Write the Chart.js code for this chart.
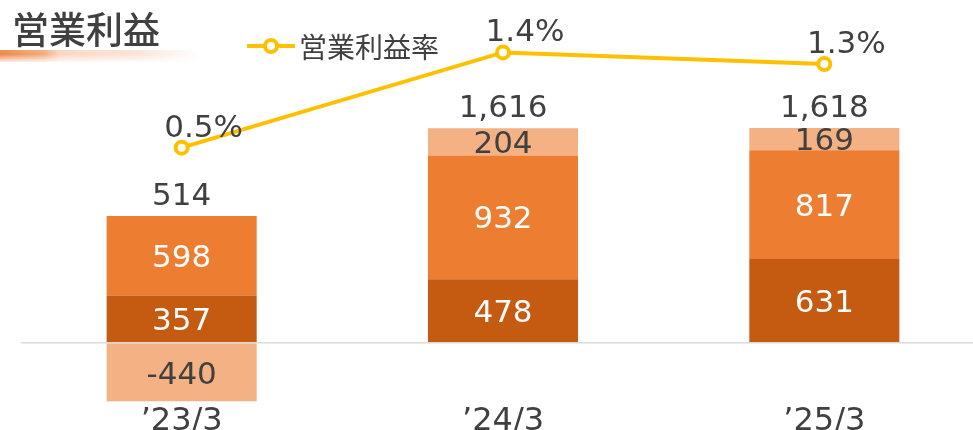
<!DOCTYPE html>
<html><head><meta charset="utf-8">
<script src="https://cdn.jsdelivr.net/npm/chart.js@4"></script>
<style>
html,body{margin:0;padding:0;background:#fff;overflow:hidden;width:973px;height:430px;}
#wrap{position:relative;width:973px;height:430px;overflow:hidden;}
#box{position:absolute;left:0;top:0;width:985px;height:430px;}
#title{position:absolute;left:12px;top:8px;font:500 37px "Noto Sans CJK JP";color:#404040;line-height:40px;z-index:2;}
#uline{position:absolute;left:0;top:50px;width:198px;height:12px;background:linear-gradient(to right,rgba(236,128,60,0.95) 0%,rgba(240,150,90,0.8) 22%,rgba(244,180,140,0.55) 30%,rgba(244,190,155,0.4) 70%,rgba(255,255,255,0) 100%);z-index:1;}
#uline:after{content:"";position:absolute;left:0;top:0;right:0;bottom:0;background:linear-gradient(to bottom,rgba(255,255,255,0.1),rgba(255,255,255,0) 35%,rgba(255,255,255,0.85));}
#leg{position:absolute;left:247px;top:28px;height:36px;z-index:2;}
#legline{position:absolute;left:0;top:16px;width:48px;height:4px;background:#FFC000;}
#legdot{position:absolute;left:16px;top:10px;width:8px;height:8px;border:4px solid #FFC000;border-radius:50%;background:#fff;}
#legtxt{position:absolute;left:52px;top:0px;font:28px "Noto Sans CJK JP";color:#404040;white-space:nowrap;line-height:36px;}
</style></head>
<body>
<div id="wrap">
<div id="uline"></div>
<div id="title">営業利益</div>
<div id="leg"><div id="legline"></div><div id="legdot"></div><div id="legtxt">営業利益率</div></div>
<div id="box"><canvas id="c"></canvas></div>
</div>
<script>
const categories = ["\u201923/3", "\u201924/3", "\u201925/3"];
const darkValues = [357, 478, 631];
const midValues = [598, 932, 817];
const lightValues = [-440, 204, 169];
const totals = [514, 1616, 1618];
const marginRate = [0.48, 1.38, 1.27];
const marginLabels = ["0.5%", "1.4%", "1.3%"];

const NUMFONT = '31px "DejaVu Sans"';
const TXT = '#404040';

const labelPlugin = {
  id: 'labels',
  afterDatasetsDraw(chart) {
    const ctx = chart.ctx;
    ctx.save();
    ctx.font = NUMFONT;
    ctx.textAlign = 'center';
    ctx.textBaseline = 'middle';
    [0,1,2].forEach(di => {
      const meta = chart.getDatasetMeta(di);
      const ds = chart.data.datasets[di];
      meta.data.forEach((el, i) => {
        const y = (el.y + el.base) / 2;
        ctx.fillStyle = ds.labelColor;
        ctx.fillText(String(ds.data[i]), el.x, y + 3);
      });
    });
    const ys = chart.scales.y;
    const m0 = chart.getDatasetMeta(0);
    totals.forEach((t, i) => {
      const top = darkValues[i] + midValues[i] + Math.max(0, lightValues[i]);
      const y = ys.getPixelForValue(top) - 19;
      ctx.fillStyle = TXT;
      ctx.fillText(t.toLocaleString('en-US'), m0.data[i].x, y);
    });
    const ml = chart.getDatasetMeta(3);
    ml.data.forEach((p, i) => {
      ctx.fillStyle = TXT;
      ctx.fillText(marginLabels[i], p.x + 22, p.y - 19);
    });
    ctx.restore();
  }
};

new Chart(document.getElementById('c'), {
  data: {
    labels: categories,
    datasets: [
      {type:'bar', data: darkValues, backgroundColor:'#C55A11', labelColor:'#ffffff', stack:'s', yAxisID:'y', order:2},
      {type:'bar', data: midValues, backgroundColor:'#ED7D31', labelColor:'#ffffff', stack:'s', yAxisID:'y', order:2},
      {type:'bar', data: lightValues, backgroundColor:'#F4B183', labelColor:TXT, stack:'s', yAxisID:'y', order:2},
      {type:'line', data: marginRate, yAxisID:'y2', borderColor:'#FFC000', borderWidth:4, pointRadius:6, pointBorderWidth:4, pointBackgroundColor:'#ffffff', pointBorderColor:'#FFC000', tension:0, order:1, clip:false}
    ]
  },
  options: {
    responsive: true,
    maintainAspectRatio: false,
    animation: false,
    layout: {autoPadding: false, padding: {left: 21, right: 0, top: 0, bottom: 0}},
    plugins: {legend: {display: false}, tooltip: {enabled: false}},
    datasets: {bar: {barPercentage: 0.934, categoryPercentage: 0.5}},
    scales: {
      x: {
        stacked: true,
        grid: {display: false, drawTicks: false},
        border: {display: false},
        ticks: {color: TXT, font: {family: 'DejaVu Sans', size: 32}, padding: 0, maxRotation: 0},
        afterFit: s => { s.height = 28; }
      },
      y: {
        stacked: true,
        min: -445, max: 2579,
        afterBuildTicks: s => { s.ticks = [{value: 0}]; },
        ticks: {display: false},
        border: {display: false},
        grid: {color: '#d9d9d9', lineWidth: 1.5, drawTicks: false},
        afterFit: s => { s.width = 0; }
      },
      y2: {
        display: false,
        min: -1.922, max: 1.875
      }
    }
  },
  plugins: [labelPlugin]
});
</script>
</body></html>
